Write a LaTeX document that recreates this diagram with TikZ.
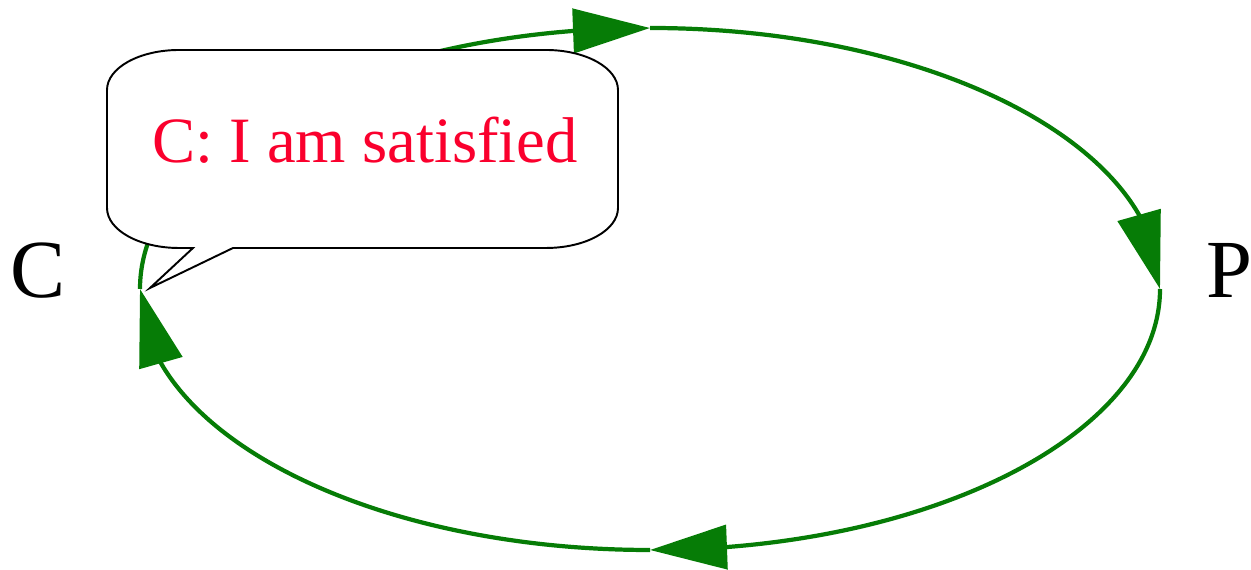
\documentclass[tikz,border=0pt]{standalone}
\usepackage{fontspec}
\setmainfont{Liberation Serif}
\usetikzlibrary{arrows.meta,bending}
\definecolor{cyclegreen}{RGB}{6,124,6}
\definecolor{saidred}{RGB}{250,0,45}
\begin{document}
\begin{tikzpicture}[x=0.02cm,y=0.02cm,
  cycle/.style={draw=cyclegreen,line width=2.4pt,
    -{Triangle[length=1.54cm,width=0.88cm,flex]}},
  bubble/.style={draw=black,line width=1.1pt,fill=white,line join=miter},
  label/.style={font=\fontsize{47}{52}\selectfont,text=black,inner sep=0pt},
  said/.style={font=\fontsize{36.8}{42}\selectfont,text=saidred,inner sep=0pt}]
\useasboundingbox (0,0) rectangle (1251,570);
% points on the cycle
\coordinate (l) at (140,281);
\coordinate (t) at (650,542);
\coordinate (r) at (1160,281);
\coordinate (b) at (650,20);
% cycle arcs
\draw[cycle] (l) to[out=90,in=180,out distance=2.88cm,in distance=5.63cm] (t);
\draw[cycle] (t) to[out=0,in=90,out distance=5.63cm,in distance=2.88cm] (r);
\draw[cycle] (r) to[out=-90,in=0,out distance=2.88cm,in distance=5.63cm] (b);
\draw[cycle] (b) to[out=180,in=-90,out distance=5.63cm,in distance=2.88cm] (l);
% speech bubble
\draw[bubble] (179,520) -- (546,520)
  arc[start angle=90,end angle=0,x radius=1.44cm,y radius=0.8cm]
  -- (618,362)
  arc[start angle=0,end angle=-90,x radius=1.44cm,y radius=0.8cm]
  -- (233,322) -- (150,282) -- (193,322) -- (179,322)
  arc[start angle=-90,end angle=-180,x radius=1.44cm,y radius=0.8cm]
  -- (107,480)
  arc[start angle=180,end angle=90,x radius=1.44cm,y radius=0.8cm]
  -- cycle;
\node[said,anchor=base] (msg) at (365,407) {C: I am satisfied};
% labels
\node[label,anchor=base] (C) at (38.5,272) {C};
\node[label,anchor=base west] (P) at (1206,272) {P};
\end{tikzpicture}
\end{document}
